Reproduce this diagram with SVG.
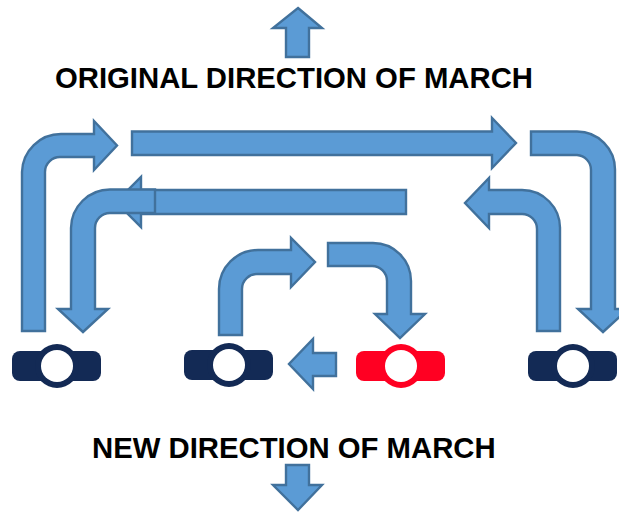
<svg xmlns="http://www.w3.org/2000/svg" width="619" height="512" viewBox="0 0 619 512">
<style>
.a{fill:#5B9BD5;stroke:#41719C;stroke-width:2.4;stroke-linejoin:miter}
.t{font-family:"Liberation Sans",Arial,sans-serif;font-weight:700;font-size:29.300px;fill:#000}
.navy{fill:#132A55}
.red{fill:#FF0022}
.hole{fill:#fff}
</style>
<rect width="619" height="512" fill="#fff"/>
<g id="connectors">
<path class="a" d="M298 8L322 28H309V57H286V28H273Z"/>
<path class="a" d="M22 331V172A39 39 0 0 1 61 134H94V121L117 145.500L94 170V157H61A15 15 0 0 0 45 172V331Z"/>
<path class="a" d="M132 131.500H492V118L516 143L492 168V155H132Z"/>
<path class="a" d="M531 131.500H577A38 38 0 0 1 615 170V309H628L603 332L578 309H591V170A15 15 0 0 0 577 155H531Z"/>
<path class="a" d="M406 190V214H141V227L116 202L141 177V190Z"/>
<path class="a" d="M155 189.500V213H110A15 15 0 0 0 95 228V309H108L83 332L58 309H71V228A39 39 0 0 1 110 189.500Z"/>
<path class="a" d="M219 335V289A39 39 0 0 1 258 250H291V238L315 262L291 287V274H258A15 15 0 0 0 242 289V335Z"/>
<path class="a" d="M328 243H373A38 38 0 0 1 411 281V314H425L400 338L375 314H387V281A15 15 0 0 0 372 266H328Z"/>
<path class="a" d="M537 331V229A15 15 0 0 0 522 214H489V228L465 203L489 178V190H522A38 38 0 0 1 560 229V331Z"/>
<path class="a" d="M336 353V376H313V389L289 364L313 339V353Z"/>
<path class="a" d="M286 465H309V485H322L298 510L273 485H286Z"/>
</g>
<g id="node-1"><rect class="navy" x="12" y="351" width="89" height="30" rx="8"/><circle class="navy" cx="57" cy="366" r="22"/><circle class="hole" cx="57" cy="366" r="16"/></g>
<g id="node-2"><rect class="navy" x="184" y="350" width="89" height="30" rx="8"/><circle class="navy" cx="229" cy="365" r="22"/><circle class="hole" cx="229" cy="365" r="16"/></g>
<g id="node-3"><rect class="red" x="356" y="351" width="89" height="30" rx="8"/><circle class="red" cx="401" cy="366" r="22"/><circle class="hole" cx="401" cy="366" r="16"/></g>
<g id="node-4"><rect class="navy" x="528" y="351" width="89" height="30" rx="8"/><circle class="navy" cx="573" cy="366" r="22"/><circle class="hole" cx="573" cy="366" r="16"/></g>
<text class="t" x="55" y="88">ORIGINAL DIRECTION OF MARCH</text>
<text class="t" x="92" y="458">NEW DIRECTION OF MARCH</text>
</svg>
